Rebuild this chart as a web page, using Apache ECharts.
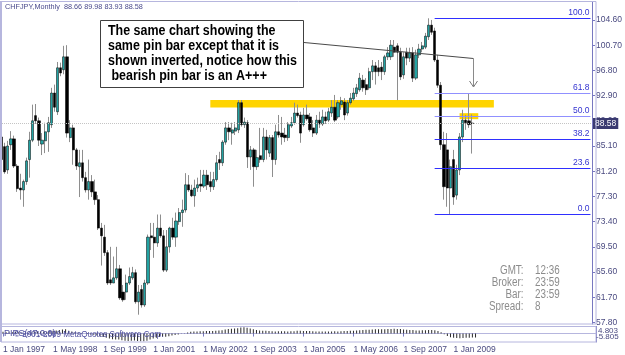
<!DOCTYPE html>
<html><head><meta charset="utf-8">
<script src="https://cdn.jsdelivr.net/npm/echarts@6/dist/echarts.min.js"></script>
<style>html,body{margin:0;padding:0;background:#fff}#c{width:625px;height:355px}</style>
</head><body><div id="c"></div>
<script>
// ---------- data ----------
const symbolName = 'CHFJPY,Monthly';
const startYear = 1997;
const monthNames = ['Jan','Feb','Mar','Apr','May','Jun','Jul','Aug','Sep','Oct','Nov','Dec'];
const slotCount = 190; // monthly slots shown on the time axis (incl. empty space on the right)

const opens = [
86.5,85.0,81.4,85.3,86.2,82.0,78.6,78.3,79.6,83.0,
86.0,89.8,89.0,85.4,85.9,87.3,88.4,93.3,90.4,97.2,
96.9,98.9,86.4,87.9,84.5,81.9,82.5,80.2,78.3,79.6,
78.0,76.8,72.4,71.0,68.6,64.4,63.9,64.7,66.1,62.5,
62.5,63.9,64.7,65.5,61.0,62.9,60.5,63.9,71.2,71.0,
70.1,72.4,71.2,65.9,69.5,72.4,71.0,73.4,74.8,75.2,
79.1,78.3,77.4,78.6,79.2,78.9,80.6,79.6,78.8,79.9,
83.0,82.5,85.7,87.9,87.1,87.4,87.6,91.8,88.4,88.7,
83.4,84.5,81.9,83.6,83.0,86.5,84.0,86.4,83.0,87.3,
87.1,86.8,86.4,88.2,88.7,90.2,89.9,88.4,89.9,89.6,
87.9,87.1,89.1,88.5,89.6,89.1,90.2,91.1,89.6,91.5,
91.9,90.2,91.8,92.4,93.2,93.8,95.3,94.6,94.1,96.6,
97.5,97.2,97.3,96.6,98.9,98.9,100.4,100.6,99.6,96.1,
99.6,98.7,99.5,95.6,99.2,100.1,100.4,102.0,103.8,102.9,
98.4,94.5,85.3,84.5,78.6,83.0,77.5,81.4,86.5,89.1,
89.0,88.66];
const closes = [
83.0,81.1,85.1,86.2,82.0,78.5,78.3,79.6,82.8,86.0,
89.0,89.0,86.0,86.0,87.3,88.7,93.3,91.1,97.2,96.4,
98.9,87.1,87.9,84.5,82.0,82.5,80.2,78.3,79.6,78.0,
76.8,72.4,71.2,68.6,63.9,63.9,64.7,66.1,61.6,61.3,
63.9,64.9,65.5,61.0,62.5,60.5,63.9,71.0,70.9,70.1,
72.4,71.2,65.9,69.5,72.4,71.0,73.5,74.8,75.2,79.1,
78.3,77.4,78.6,79.1,78.9,80.6,79.1,78.8,79.9,82.5,
82.5,85.7,87.9,87.3,87.6,87.9,91.8,88.4,88.8,83.4,
84.5,81.9,83.3,83.0,86.5,84.5,86.4,83.0,87.3,86.8,
86.5,86.4,88.4,88.7,90.2,89.8,87.1,89.9,89.3,87.6,
87.1,89.1,88.5,89.6,89.0,90.4,91.1,89.1,91.8,92.1,
89.9,91.8,92.5,93.3,94.1,95.6,94.1,93.8,96.6,97.5,
96.6,96.6,96.6,98.9,99.5,100.7,99.6,99.6,95.8,98.9,
98.7,99.5,95.6,99.2,100.1,100.6,102.1,103.8,102.7,98.4,
94.5,85.3,78.8,78.6,81.9,77.2,81.4,86.5,89.1,88.7,
88.4,88.58];
const lows = [
82.5,80.8,80.8,84.5,81.7,78.0,76.8,75.7,79.1,80.2,
85.7,88.5,85.1,83.7,84.0,84.2,87.9,90.4,89.9,95.9,
96.2,86.4,85.7,82.2,81.4,77.2,79.6,77.9,76.8,77.2,
76.0,72.1,66.6,68.1,63.6,63.6,63.9,64.4,61.3,61.0,
61.3,63.6,64.4,60.7,59.0,60.1,60.2,63.6,69.0,67.8,
69.5,70.9,65.6,65.6,68.6,70.6,69.5,72.9,72.6,74.8,
78.0,77.2,75.7,78.0,78.0,78.6,78.3,78.0,78.3,79.6,
81.4,82.0,85.3,86.0,85.3,86.8,87.1,88.1,87.9,81.7,
81.4,78.8,81.4,82.5,82.6,83.0,83.4,80.3,82.2,86.4,
85.3,85.7,85.9,87.9,88.4,89.5,85.6,88.1,89.0,87.3,
86.5,86.8,87.9,88.2,88.5,88.8,89.6,88.8,89.3,90.7,
89.1,89.8,91.5,92.1,92.7,93.5,93.5,93.0,93.8,95.3,
94.6,95.9,95.3,96.1,98.4,98.4,98.9,92.2,95.3,95.5,
97.6,98.1,95.0,95.3,98.7,99.6,100.1,101.5,102.3,98.1,
94.1,84.5,76.8,75.7,74.56,76.0,76.8,80.6,85.7,87.6,
87.9,83.93];
const highs = [
87.0,85.6,85.9,87.4,86.7,82.3,80.8,79.9,83.3,87.3,
91.5,91.6,89.5,87.1,88.7,89.6,94.1,94.6,98.1,98.0,
100.6,100.7,89.1,88.4,84.8,84.5,84.5,81.1,83.0,80.6,
79.9,77.5,73.2,72.9,69.0,69.5,68.0,69.5,66.7,63.6,
65.2,66.3,66.4,66.0,63.6,63.6,64.4,71.4,73.2,73.2,
74.5,74.5,72.1,72.1,72.6,74.0,74.8,75.5,76.8,80.9,
80.6,79.1,79.9,80.2,81.4,81.4,81.4,81.1,81.1,83.7,
84.2,86.0,88.8,88.8,88.7,88.8,92.2,92.2,89.5,89.1,
85.1,84.8,84.5,87.9,87.9,87.6,86.8,86.8,88.4,89.9,
89.6,87.9,88.8,89.6,91.8,91.5,90.4,91.0,91.5,90.2,
89.1,89.9,90.4,90.7,90.4,91.0,92.2,93.0,92.2,92.7,
92.5,92.2,93.3,94.1,94.7,96.4,96.1,95.6,97.2,98.4,
98.1,98.4,98.1,99.2,100.4,101.5,101.5,101.0,100.3,99.6,
100.3,100.3,100.4,100.0,100.9,101.2,102.6,104.86,104.6,103.4,
99.2,95.0,87.3,87.1,83.0,84.5,82.2,87.1,90.7,89.9,
93.29,89.98];
// lower indicator panel (histogram)
const indicator = [
1.2,1.0,0.8,1.0,1.2,1.0,0.6,0.4,0.5,0.8,
1.2,1.5,1.4,1.3,1.3,1.5,2.0,2.2,2.6,2.8,
3.0,2.0,1.5,1.0,0.6,0.3,0.0,-0.4,-0.6,-0.9,
-1.3,-1.9,-2.4,-2.9,-3.6,-4.0,-4.2,-4.3,-4.8,-5.2,
-5.3,-5.2,-5.0,-5.3,-5.4,-5.5,-5.2,-4.2,-3.5,-3.0,
-2.5,-2.2,-2.3,-1.9,-1.4,-1.0,-0.6,-0.2,0.2,0.8,
1.2,1.4,1.5,1.6,1.7,1.8,1.8,1.8,1.9,2.1,
2.4,2.8,3.2,3.4,3.6,3.8,4.3,4.4,4.2,3.6,
3.0,2.5,2.2,2.0,2.0,1.8,1.7,1.5,1.6,1.6,
1.6,1.5,1.6,1.7,1.9,2.0,1.8,1.8,1.8,1.7,
1.5,1.5,1.4,1.4,1.4,1.5,1.6,1.5,1.7,1.8,
1.8,1.9,2.0,2.1,2.3,2.6,2.7,2.7,2.8,3.0,
3.1,3.1,3.1,3.2,3.3,3.4,3.3,3.2,2.8,2.7,
2.6,2.5,2.2,2.2,2.3,2.4,2.5,2.6,2.4,1.8,
1.0,-0.5,-1.8,-2.6,-3.0,-3.2,-3.3,-3.2,-3.0,-2.9,
-2.8,-2.8];
const indicatorMax = 4.803, indicatorMin = -5.805;

// axis ticks / labels
const priceTicks = [57.80,61.70,65.60,69.50,73.40,77.30,81.20,85.10,89.00,92.90,96.80,100.70,104.60];
const dateTickStep = 16;
const dateTickLabels = ['1 Jan 1997','1 May 1998','1 Sep 1999','1 Jan 2001','1 May 2002','1 Sep 2003','1 Jan 2005','1 May 2006','1 Sep 2007','1 Jan 2009'];

// fibonacci retracement
const fibLow = 74.56, fibHigh = 104.86, fibStartIndex = 139;
const fibLevels = [0.0, 23.6, 38.2, 50.0, 61.8, 100.0];
const fibLightLevels = [50.0, 61.8];

// zones (yellow)
const resistanceZone = {from: 67, to: 158, top: 92.23, bottom: 91.04};
const pinZone = {from: 147, to: 153, top: 90.18, bottom: 89.25};

const annotationLines = ['The same chart showing the','same pin bar except that it is','shown inverted, notice how this',' bearish pin bar is an A+++'];
const infoLabels = ['GMT:','Broker:','Bar:','Spread:'];
const infoValues = ['12:36','23:59','23:59','8'];
const footerTexts = ['PIPS(47,0,0)', '\u00a9 2001-2009 MetaQuotes Software Corp.'];

// ---------- build ----------
const FONT = "'Liberation Sans', sans-serif";
const categories = [];
for (let i = 0; i < slotCount; i++) {
  categories.push('1 ' + monthNames[i % 12] + ' ' + (startYear + Math.floor(i / 12)));
}
const last = opens.length - 1;
const wickData = opens.map((o, i) => [o, closes[i], lows[i], highs[i]]);
const bodyData = opens.map((o, i) => [o, closes[i], Math.min(o, closes[i]), Math.max(o, closes[i])]);

const strongBlue = '#2f2fff', lightBlue = '#9090ff', fibLabelColor = '#3434d0';
const fibSeries = fibLevels.map(l => {
  const v = fibLow + (fibHigh - fibLow) * l / 100;
  const c = fibLightLevels.includes(l) ? lightBlue : strongBlue;
  return {
    type: 'line', xAxisIndex: 0, yAxisIndex: 0, data: [], z: 4, silent: true,
    markLine: {
      silent: true, symbol: 'none', animation: false,
      lineStyle: {color: c, width: 1, type: 'solid'},
      label: {show: true, position: 'insideEndTop', formatter: l.toFixed(1), color: fibLabelColor,
              fontSize: 8.5, fontFamily: FONT, distance: 1},
      emphasis: {disabled: true},
      data: [[{coord: [fibStartIndex, v]}, {coord: [slotCount - 1, v]}]]
    }
  };
});

const axisColor = '#7878c0';
const labelColor = '#4a4a80';
const frameColor = '#b6b6de';

const lastClose = closes[last];
const titleText = symbolName + '  ' + [opens[last], highs[last], lows[last], closes[last]].map(v => v.toFixed(2)).join(' ');

const graphics = [
  // frames
  {type:'rect', z:50, silent:true, shape:{x:1, y:1.5, width:595, height:322.5}, style:{fill:null, stroke:frameColor, lineWidth:1}},
  {type:'line', z:50, silent:true, shape:{x1:1, y1:1, x2:1, y2:342}, style:{stroke:frameColor, lineWidth:2}},
  {type:'rect', z:50, silent:true, shape:{x:1, y:326.5, width:595, height:15.5}, style:{fill:null, stroke:frameColor, lineWidth:1}},
  // title
  {type:'text', z:60, x:5, y:3, scaleX:0.91, style:{text:titleText, fill:'#4a4a8c', font:"8px " + FONT}},
  // annotation box
  {type:'rect', z:60, shape:{x:100.5, y:20.5, width:203, height:67}, style:{fill:'#fff', stroke:'#404040', lineWidth:1}},
  {type:'text', z:61, x:108, y:24, scaleX:0.89, style:{text:annotationLines.join('\n'), fill:'#000', font:"bold 14px " + FONT, lineHeight:15}},
  {type:'polyline', z:60, shape:{points:[[304,42.5],[473.5,58.5]]}, style:{stroke:'#4a4a4a', lineWidth:1, fill:null}},
  {type:'polyline', z:60, shape:{points:[[473.5,58.5],[473.5,86.5]]}, style:{stroke:'#8a8a8a', lineWidth:1, fill:null}},
  {type:'polyline', z:60, shape:{points:[[469.5,81],[473.5,87],[477.5,81]]}, style:{stroke:'#7a7a7a', lineWidth:1, fill:null}},
  // footer texts in indicator panel
  {type:'text', z:60, x:4, y:329, style:{text:footerTexts[0], fill:'#5050a0', font:"9px " + FONT}},
  {type:'text', z:60, x:14, y:330, scaleX:0.9, style:{text:footerTexts[1], fill:'#5050a0', font:"9px " + FONT}},
  {type:'text', z:60, x:598, y:327, style:{text:indicatorMax.toFixed(3), fill:labelColor, font:"8px " + FONT}},
  {type:'text', z:60, x:596, y:333, style:{text:indicatorMin.toFixed(3), fill:labelColor, font:"8px " + FONT}}
];
infoLabels.forEach((t, k) => {
  graphics.push({type:'text', z:60, x:523.5, y:271 + k * 11.8, scaleX:0.82,
    style:{text:t, fill:'#8c8c8c', font:"12px " + FONT, align:'right', verticalAlign:'middle'}});
  graphics.push({type:'text', z:60, x:535, y:271 + k * 11.8, scaleX:0.82,
    style:{text:infoValues[k], fill:'#8c8c8c', font:"12px " + FONT, align:'left', verticalAlign:'middle'}});
});

const option = {
  animation: false,
  backgroundColor: '#fff',
  grid: [
    {left: 0, top: 2, width: 596, height: 322, show: false},
    {left: 0, top: 326.5, width: 596, height: 15.5, show: false}
  ],
  xAxis: [
    {type:'category', gridIndex:0, data:categories, boundaryGap:true, show:false},
    {type:'category', gridIndex:1, data:categories, boundaryGap:true,
     axisLine:{show:true, lineStyle:{color:frameColor}},
     axisTick:{show:true, alignWithLabel:true, length:3, interval:(i) => i % dateTickStep === 0 && i / dateTickStep < dateTickLabels.length, lineStyle:{color:axisColor}},
     axisLabel:{show:true, interval:(i) => i % dateTickStep === 0 && i / dateTickStep < dateTickLabels.length,
       formatter:(v, i) => dateTickLabels[i / dateTickStep] || '', align:'left', margin:3,
       color:labelColor, fontSize:8.5, fontFamily:FONT}}
  ],
  yAxis: [
    {type:'value', gridIndex:0, position:'right', min:57.56, max:107.38, scale:true,
     splitLine:{show:false},
     axisLine:{show:true, lineStyle:{color:axisColor}},
     axisTick:{show:true, length:3, customValues:priceTicks, lineStyle:{color:axisColor}},
     axisLabel:{show:true, customValues:priceTicks, formatter:(v) => v.toFixed(2), margin:4, color:labelColor, fontSize:8.5, fontFamily:FONT}},
    {type:'value', gridIndex:1, position:'right', min:indicatorMin - 0.2, max:indicatorMax + 0.2,
     axisLine:{show:true, lineStyle:{color:axisColor}}, axisTick:{show:false}, axisLabel:{show:false}, splitLine:{show:false}}
  ],
  graphic: graphics,
  series: [
    {type:'candlestick', name:'wick', xAxisIndex:0, yAxisIndex:0, data:wickData, barWidth:1, z:2,
     itemStyle:{color:'#8e8e8e', color0:'#8e8e8e', borderColor:'#8e8e8e', borderColor0:'#8e8e8e', borderWidth:1},
     markArea:{silent:true, itemStyle:{color:'#ffd400'},
       data:[[{coord:[resistanceZone.from, resistanceZone.top]}, {coord:[resistanceZone.to, resistanceZone.bottom]}],
             [{coord:[pinZone.from, pinZone.top]}, {coord:[pinZone.to, pinZone.bottom]}]]}},
    {type:'candlestick', name:'body', xAxisIndex:0, yAxisIndex:0, data:bodyData, barWidth:2.7, z:3,
     itemStyle:{color:'#22a2a2', color0:'#000', borderColor:'#000', borderColor0:'#000', borderWidth:0.5},
     markLine:{silent:true, symbol:'none', animation:false,
       data: [{yAxis:lastClose, lineStyle:{color:'#c4c4c4', type:'dotted', width:1},
         label:{show:true, position:'end', formatter:lastClose.toFixed(2), color:'#fff', backgroundColor:'#3a3a70',
                padding:[1,2,1,2], fontSize:8.5, fontFamily:FONT, distance:1}}]}},
    {type:'bar', xAxisIndex:1, yAxisIndex:1, data:indicator, barWidth:1, itemStyle:{color:'#2a2a2a'}}
  ].concat(fibSeries)
};
const chart = echarts.init(document.getElementById('c'));
chart.setOption(option);
</script></body></html>
